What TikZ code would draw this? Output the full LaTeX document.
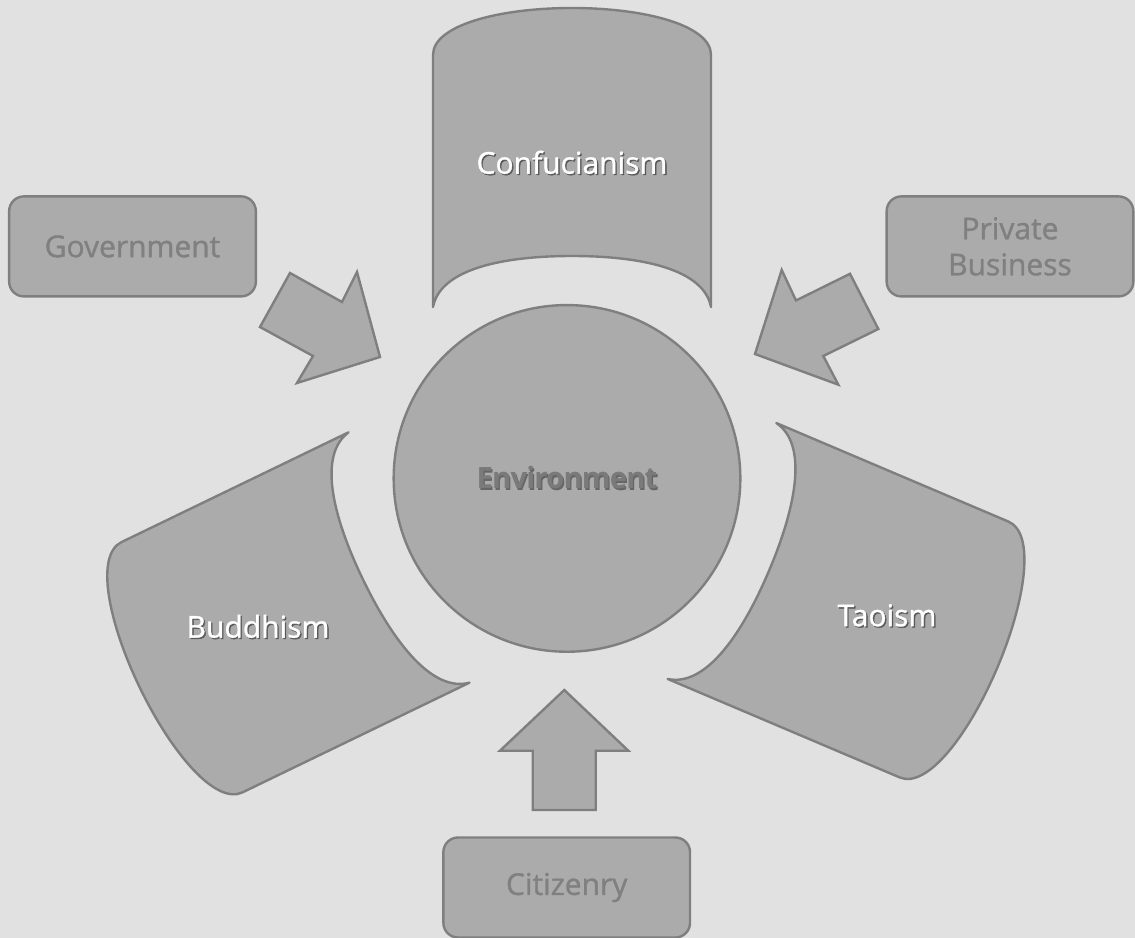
\documentclass[tikz,border=0pt]{standalone}
\usepackage{fontspec}
\setmainfont{Open Sans}
\usepackage{tikz}

\definecolor{bggray}{HTML}{E1E1E1}
\definecolor{shapefill}{HTML}{ABABAB}
\definecolor{shapeline}{HTML}{7F7F7F}
\definecolor{labelgray}{HTML}{808080}
\definecolor{shadowgray}{HTML}{5A5A5A}
\definecolor{envgray}{HTML}{7A7A7A}
\definecolor{envshadow}{HTML}{666666}

\newcommand{\shadowed}[2]{\rlap{\kern1pt\raisebox{-1pt}{\color{#1}#2}}#2}
\newcommand{\petalpath}{(-139,0) -- (-139,-252) .. controls (-139,-282) and (-72,-299) .. (0,-299)
      .. controls (72,-299) and (139,-282) .. (139,-252) -- (139,0)
      .. controls (132,-37) and (72,-51) .. (0,-51)
      .. controls (-72,-51) and (-132,-37) .. (-139,0) -- cycle}

\tikzset{
  blob/.style={draw=shapeline, fill=shapefill, line width=1.8pt, line join=round},
  blockarrow/.style={blob, line join=miter},
  sidebox/.style={blob, rounded corners=11pt, minimum width=185pt, minimum height=75pt, inner sep=0pt},
  outlabel/.style={text=labelgray, font=\fontsize{22.5}{27}\selectfont\addfontfeature{FakeBold=1.2}, align=center},
  inlabel/.style={text=white, font=\fontsize{22.5}{27}\selectfont\addfontfeature{FakeBold=1.2}},
}

\begin{document}
\begin{tikzpicture}[x=0.75pt,y=0.75pt,yscale=-1,xscale=1]
        \useasboundingbox (0,0) rectangle (1135,938);
        \fill[bggray] (0,0) rectangle (1135,938);

        %Shape: Petals
        \begin{scope}[shift={(572,307)}]
            \draw[blob] \petalpath;
        \end{scope}
        \begin{scope}[shift={(409,557.5)}, rotate=-115.8]
            \draw[blob] \petalpath;
        \end{scope}
        \begin{scope}[shift={(722,551)}, rotate=113]
            \draw[blob] \petalpath;
        \end{scope}

        %Shape: Circle
        \node[blob, circle, minimum size=260pt, inner sep=0pt, text=envgray,
              font=\bfseries\fontsize{22}{26}\selectfont\addfontfeature{LetterSpace=-3}]
              (env) at (567,478.4) {\shadowed{envshadow}{Environment}};

        \node[inlabel] (conf) at (572,163) {\shadowed{shadowgray}{Confucianism}};
        \node[inlabel] (budd) at (258,627) {\shadowed{shadowgray}{Buddhism}};
        \node[inlabel] (tao) at (887,616) {\shadowed{shadowgray}{Taoism}};

        %Shape: Block arrows
        \draw[blockarrow] (290,273) -- (342,302) -- (357,272) -- (380,357)
            -- (297,383) -- (313,356) -- (260,327) -- cycle;
        \draw[blockarrow] (781.7,270) -- (796,300.5) -- (850,273.8) -- (878.3,329)
            -- (823.3,356) -- (838.3,384.7) -- (755,354) -- cycle;
        \draw[blockarrow] (564.3,690) -- (628.3,750.7) -- (595.7,750.7) -- (595.7,810)
            -- (532.7,810) -- (532.7,750.7) -- (500,750.7) -- cycle;

        %Shape: Boxes
        \node[sidebox, outlabel] (gov) at (132.5,246.4) {Government};
        \node[sidebox, outlabel] (priv) at (1010,246.4) {Private\\Business};
        \node[sidebox, outlabel] (citz) at (566.7,887.5) {Citizenry};
    \end{tikzpicture}
\end{document}
